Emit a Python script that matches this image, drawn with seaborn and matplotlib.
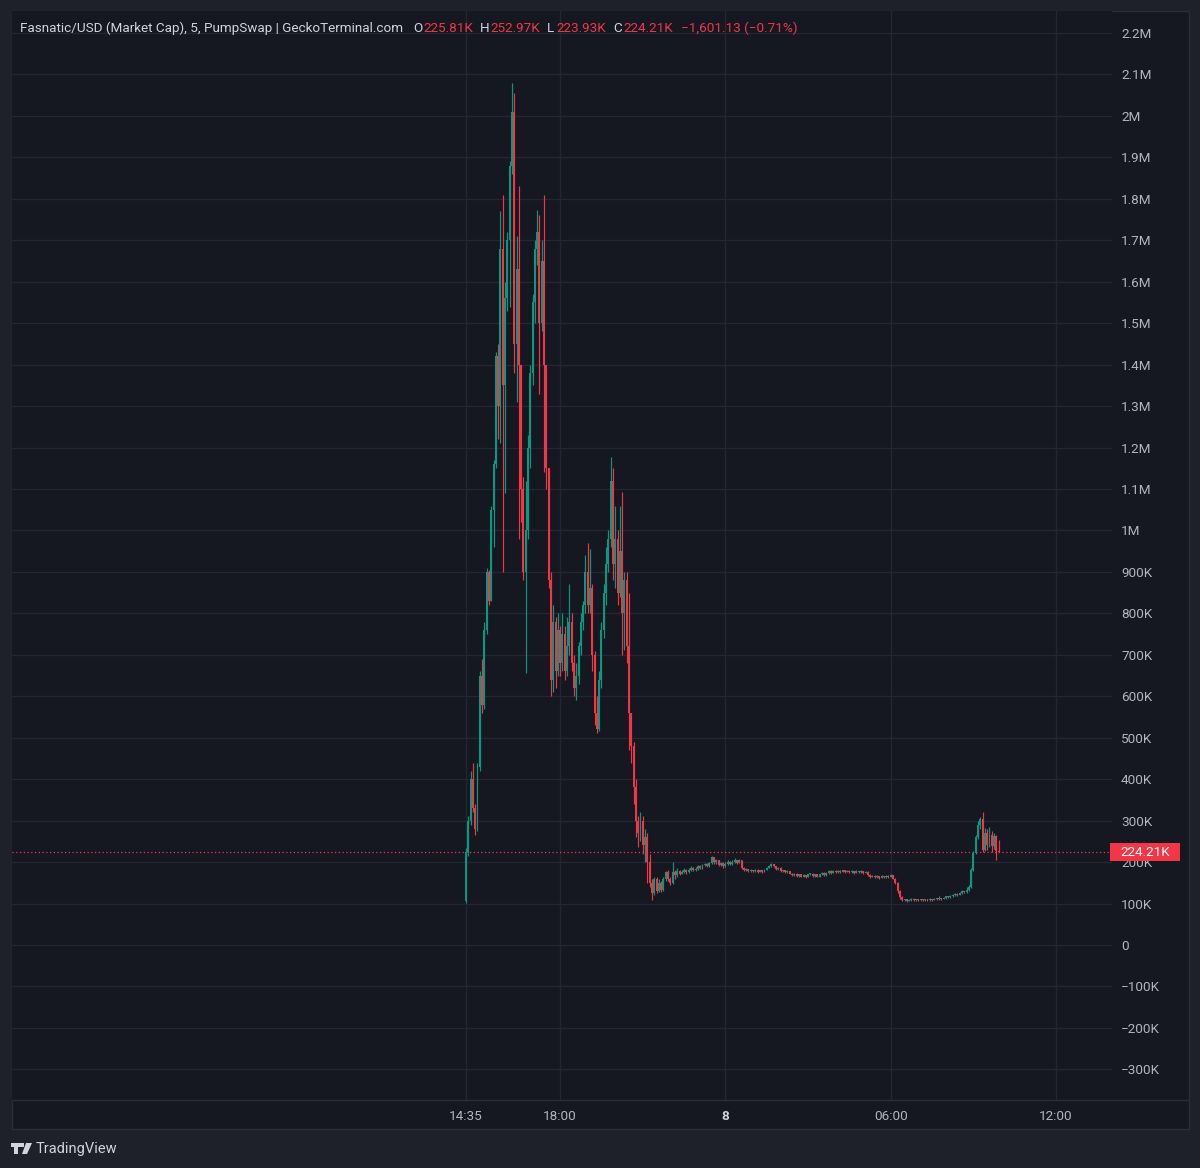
import matplotlib
matplotlib.use("Agg")
import numpy as np
import pandas as pd
import seaborn as sns
import matplotlib.pyplot as plt
from matplotlib.patches import Rectangle, Polygon

# ---------------- data (values in thousands of USD market cap, 5-min candles) -------------
first_open_k = 105.0
close_k = [225, 300, 400, 330, 280, 430, 650, 580, 760, 900,
           830, 1050, 1160, 1420, 1300, 1680, 1350, 1560, 1700, 1880,
           2010, 1450, 1630, 1400, 1100, 900, 1000, 1200, 1380, 1550,
           1680, 1720, 1500, 1650, 1400, 1150, 880, 640, 780, 660,
           760, 680, 750, 660, 720, 780, 680, 620, 650, 720,
           780, 820, 900, 820, 860, 700, 560, 520, 640, 760,
           850, 920, 980, 1120, 920, 980, 850, 950, 800, 880,
           720, 560, 480, 380, 300, 270, 300, 240, 260, 200,
           150, 125, 160, 130, 150, 132, 160, 175, 160, 150,
           175, 168, 178, 172, 176, 182, 175, 180, 186, 180,
           184, 190, 186, 192, 196, 190, 198, 212, 200, 205,
           192, 198, 190, 196, 200, 195, 200, 205, 198, 205,
           185, 180, 183, 178, 181, 178, 182, 176, 180, 176,
           182, 186, 190, 195, 190, 184, 186, 178, 180, 175,
           178, 172, 168, 172, 166, 170, 165, 168, 164, 170,
           172, 166, 170, 165, 170, 174, 168, 174, 178, 174,
           178, 175, 179, 176, 180, 176, 179, 175, 178, 174,
           178, 175, 178, 174, 177, 168, 164, 167, 163, 166,
           162, 166, 163, 167, 164, 168, 160, 150, 130, 115,
           108, 110, 106, 109, 112, 108, 110, 108, 110, 108,
           110, 109, 111, 109, 112, 110, 113, 111, 114, 117,
           115, 118, 121, 124, 121, 126, 130, 127, 133, 140,
           181, 222, 260, 290, 305, 230, 270, 240, 265, 238,
           262, 225.81, 224.21]
high_k = [235, 310, 420, 440, 340, 440, 660, 690, 780, 910,
          905, 1060, 1170, 1430, 1450, 1770, 1810, 1600, 1720, 1890,
          2080, 2055, 1710, 1830, 1400, 1130, 1120, 1230, 1400, 1570,
          1700, 1773, 1760, 1700, 1810, 1390, 1150, 900, 820, 790,
          800, 770, 800, 770, 790, 870, 800, 700, 680, 730,
          800, 830, 940, 970, 955, 870, 710, 600, 660, 780,
          870, 960, 1000, 1177, 1150, 1060, 1000, 1060, 1093, 900,
          900, 850, 560, 490, 400, 310, 320, 310, 280, 270,
          220, 160, 165, 165, 160, 155, 165, 178, 180, 165,
          200, 180, 185, 182, 182, 185, 184, 186, 190, 188,
          188, 192, 192, 195, 198, 198, 200, 214, 212, 208,
          206, 200, 200, 200, 204, 202, 204, 210, 206, 208,
          206, 188, 185, 184, 183, 182, 184, 183, 182, 181,
          184, 188, 192, 197, 196, 191, 188, 187, 182, 181,
          180, 179, 173, 174, 173, 172, 171, 170, 169, 172,
          174, 173, 172, 171, 172, 176, 175, 176, 180, 180,
          181, 180, 182, 180, 182, 181, 181, 180, 180, 179,
          180, 179, 180, 179, 179, 178, 170, 169, 168, 168,
          167, 168, 167, 169, 168, 170, 169, 162, 152, 132,
          117, 112, 111, 111, 114, 113, 112, 111, 111, 111,
          112, 111, 113, 112, 114, 113, 118, 114, 116, 119,
          118, 120, 123, 126, 125, 128, 132, 131, 140, 145,
          185, 226, 265, 300, 309, 321, 282, 280, 285, 275,
          270, 266, 252.97]
low_k = [101, 215, 290, 320, 265, 275, 420, 560, 570, 750,
         820, 830, 960, 1150, 1220, 1210, 900, 1090, 1530, 1540,
         1860, 1380, 1310, 980, 1020, 880, 656, 980, 1150, 1350,
         1500, 1640, 1330, 1480, 1140, 1100, 860, 600, 610, 620,
         650, 650, 660, 640, 650, 700, 660, 600, 590, 630,
         700, 760, 800, 800, 800, 660, 530, 511, 515, 620,
         740, 820, 900, 960, 880, 860, 820, 840, 700, 712,
         680, 470, 440, 340, 260, 236, 250, 220, 200, 150,
         140, 108, 120, 125, 128, 128, 130, 155, 155, 145,
         148, 160, 165, 168, 170, 174, 172, 174, 178, 178,
         178, 182, 184, 184, 190, 188, 188, 196, 195, 196,
         190, 190, 186, 188, 194, 192, 194, 198, 195, 197,
         183, 178, 178, 176, 177, 176, 177, 174, 175, 174,
         175, 180, 185, 188, 188, 182, 182, 176, 176, 173,
         173, 170, 166, 166, 163, 164, 163, 163, 162, 163,
         168, 164, 165, 163, 164, 168, 166, 167, 172, 172,
         173, 174, 174, 174, 175, 174, 175, 173, 174, 172,
         173, 173, 174, 172, 173, 166, 162, 163, 161, 162,
         160, 161, 161, 162, 162, 163, 158, 148, 125, 110,
         105, 106, 104, 105, 107, 106, 106, 106, 106, 106,
         107, 107, 107, 107, 108, 108, 109, 109, 110, 112,
         113, 114, 116, 119, 119, 120, 124, 125, 126, 131,
         138, 178, 220, 255, 280, 224, 226, 230, 236, 225,
         232, 205, 223.93]

time_tick_pos = [0, 41, 113, 185, 257]
time_tick_labels = ["14:35", "18:00", "8", "06:00", "12:00"]
price_ticks_k = list(range(-300, 2201, 100))

title_main = "Fasnatic/USD (Market Cap), 5, PumpSwap | GeckoTerminal.com"
ohlc_labels = ["O", "H", "L", "C"]
ohlc_values = ["225.81K", "252.97K", "223.93K", "224.21K"]
change_text = "\u22121,601.13 (\u22120.71%)"
last_price_k = 224.21
last_price_label = "224.21K"

# ---------------- styling -------------
W, H = 1200, 1168
OUTER = "#1e212a"
PANEL = "#151821"
GRID = "#242733"
TEXT = "#b2b5be"
UP = "#089981"
DOWN = "#f23645"
FS = 9.7

sns.set_theme(style="dark", rc={
    "axes.facecolor": PANEL, "figure.facecolor": OUTER,
    "grid.color": GRID, "axes.edgecolor": PANEL,
    "text.color": TEXT, "xtick.color": TEXT, "ytick.color": TEXT,
})
plt.rcParams["font.family"] = ["Roboto", "DejaVu Sans"]

n = len(close_k)
opens = [first_open_k] + close_k[:-1]
df = pd.DataFrame({"idx": np.arange(n), "open": opens, "high": high_k,
                   "low": low_k, "close": close_k})
df["up"] = df["close"] >= df["open"]
df["color"] = np.where(df["up"], UP, DOWN)
df["bottom"] = df[["open", "close"]].min(axis=1)
df["height"] = (df["close"] - df["open"]).abs().clip(lower=2.4)

fig = plt.figure(figsize=(W / 100, H / 100), dpi=100)

def px(x, y):
    return x / W, 1 - y / H

# chart panel (plot + price scale + time scale)
panel = Rectangle(px(12, 1129), (1189 - 12) / W, (1129 - 11) / H, transform=fig.transFigure,
                  facecolor=PANEL, edgecolor="#2a2d37", linewidth=1.0, zorder=-5)
fig.patches.append(panel)

ax_left, ax_top, ax_right, ax_bottom = 12, 11, 1112, 1100
ax = fig.add_axes([ax_left / W, 1 - ax_bottom / H, (ax_right - ax_left) / W,
                   (ax_bottom - ax_top) / H])
ax.set_zorder(1)
ax.set_facecolor(PANEL)

# scales
px_per_candle = 2.296
x0_px = 466
ax.set_xlim((ax_left - x0_px) / px_per_candle, (ax_right - x0_px) / px_per_candle)
ax.set_ylim(-374, 2253)

ax.set_yticks(price_ticks_k)
def fmt(v):
    if v == 0:
        return "0"
    s = "\u2212" if v < 0 else ""
    a = abs(v)
    if a >= 1000:
        m = a / 1000
        txt = f"{m:.1f}".rstrip("0").rstrip(".")
        return f"{s}{txt}M"
    return f"{s}{a}K"
ax.set_yticklabels([fmt(v) for v in price_ticks_k])
ax.yaxis.tick_right()
ax.tick_params(axis="y", length=0, pad=6.5, labelsize=FS, labelcolor=TEXT)

ax.set_xticks(time_tick_pos)
ax.set_xticklabels(time_tick_labels)
ax.tick_params(axis="x", length=0, pad=7, labelsize=FS, labelcolor=TEXT)
for lab in ax.get_xticklabels():
    if lab.get_text() == "8":
        lab.set_fontweight("bold")
        lab.set_color("#d1d4dc")

ax.grid(True, color=GRID, linewidth=1.0)
ax.set_axisbelow(True)
for s in ax.spines.values():
    s.set_visible(False)
ax.set_xlabel("")
ax.set_ylabel("")

# candles
ax.vlines(df["idx"], df["low"], df["high"], colors=df["color"], linewidth=0.85, zorder=3)
ax.bar(df["idx"], df["height"], bottom=df["bottom"], width=0.85, color=df["color"],
       linewidth=0, zorder=4)

# last price line
ax.axhline(last_price_k, color=DOWN, linewidth=0.9, linestyle=(0, (1, 2)), zorder=2)

# separator between plot and time scale
fig.add_artist(plt.Line2D([12 / W, 1189 / W], [1 - 1100 / H] * 2, color="#2a2d37",
                          linewidth=1.0, transform=fig.transFigure, zorder=2))

# last price label box
yb = 1 - 861 / H
fig.patches.append(Rectangle((1110 / W, yb), 70 / W, 18 / H, transform=fig.transFigure,
                             facecolor=DOWN, edgecolor="none", zorder=5))
fig.text(1145 / W, 1 - 852 / H, last_price_label, color="white", fontsize=FS,
         ha="center", va="center", zorder=6)

# header line
ty = 1 - 28 / H
fig.text(20 / W, ty, title_main, color="#d1d4dc", fontsize=FS, ha="left", va="center", zorder=6)
lab_x = [413, 480, 547, 613]
val_x = [423, 490, 556, 623]
for lx, vx, l, v in zip(lab_x, val_x, ohlc_labels, ohlc_values):
    fig.text(lx / W, ty, l, color="#d1d4dc", fontsize=FS, ha="left", va="center", zorder=6)
    fig.text(vx / W, ty, v, color=DOWN, fontsize=FS, ha="left", va="center", zorder=6)
fig.text(681 / W, ty, change_text, color=DOWN, fontsize=FS, ha="left", va="center", zorder=6)

# TradingView footer logo + text
logo = "#d1d4dc"
fig.patches.append(Polygon([px(11, 1143), px(21, 1143), px(21, 1147), px(18, 1147),
                            px(18, 1154), px(14, 1154), px(14, 1147), px(11, 1147)],
                           closed=True, transform=fig.transFigure, facecolor=logo,
                           edgecolor="none"))
fig.patches.append(Polygon([px(21, 1143), px(23.5, 1143), px(23.5, 1147), px(21, 1147)],
                           closed=True, transform=fig.transFigure, facecolor=logo,
                           edgecolor="none"))
fig.patches.append(Polygon([px(26, 1143), px(32, 1143), px(27, 1154), px(22, 1154)],
                           closed=True, transform=fig.transFigure, facecolor=logo,
                           edgecolor="none"))
fig.text(36 / W, 1 - 1149 / H, "TradingView", color=logo, fontsize=10.5, ha="left",
         va="center")

fig.savefig("out.png", dpi=100, facecolor=OUTER)
